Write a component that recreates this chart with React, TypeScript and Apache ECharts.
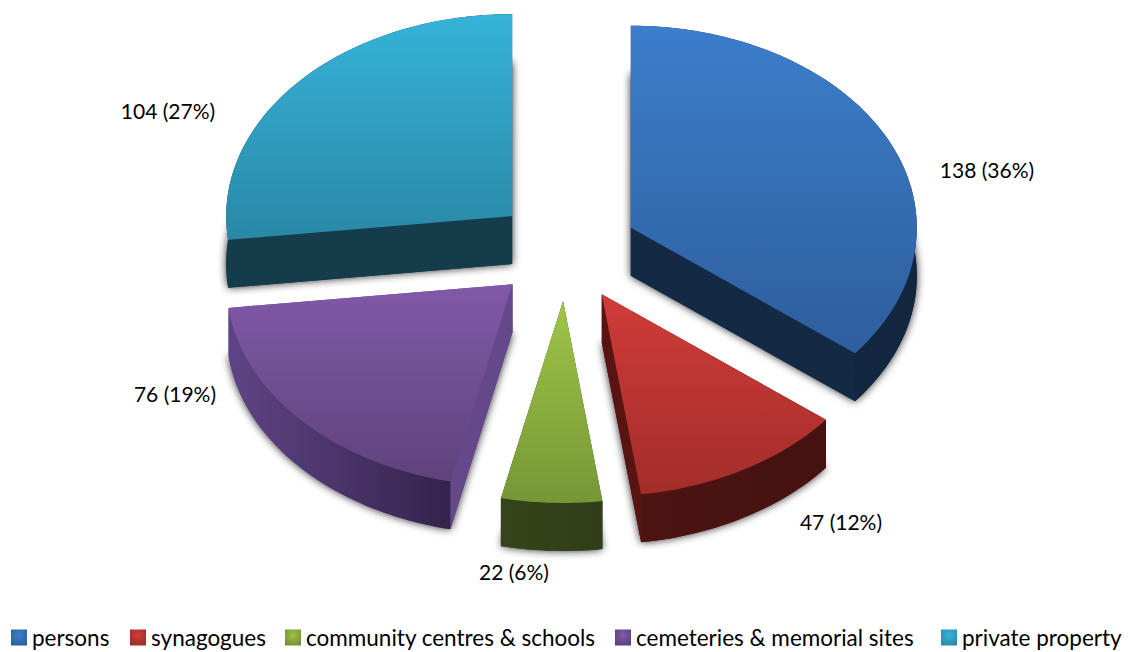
import React, { useEffect, useRef } from "react";
import * as echarts from "echarts";

const categories = ["persons", "synagogues", "community centres & schools", "cemeteries & memorial sites", "private property"];
const values = [138, 47, 22, 76, 104];
const percents = [36, 12, 6, 19, 27];

// Styling and layout, kept apart from the data
const topColors = [["#3c7ecb", "#2e5e9d"], ["#cf3c39", "#a32d2a"], ["#9fc549", "#769735"], ["#8159a8", "#60427d"], ["#35b3d9", "#2a88a6"]];
const wallColors = [["#14294a", "#12263f"], ["#4d1412", "#441210"], ["#36441b", "#313d18"], ["#5f4485", "#34234c"], ["#143d4b", "#143a48"]];
const faceColors = ["#132944", "#581412", "#36441b", "#64488a", "#143c4a"];
const legendEdge = ["#2c5f9e", "#a02c2a", "#6f8f33", "#5c3f80", "#2a8aa8"];
const labelCentres = [[987, 169], [841, 521], [514, 571], [175, 393], [168, 110]];
const legendLefts = [11, 130, 285, 615, 941];
const FONT = "Lato, Carlito, sans-serif";
const CX = 566, CY = 250, EX = 72, EY = 51, RX = 286, RY = 202, DEPTH = 48;

const total = values.reduce((a, b) => a + b, 0);
const starts: number[] = [];
values.reduce((acc, v, i) => { starts[i] = acc; return acc + v; }, 0);
const toAngle = (v: number) => (v / total) * Math.PI * 2;

function renderSlice(index: number) {
  return (_params: any, api: any) => {
    const value = api.value(0);
    const a0 = toAngle(starts[index]);
    const a1 = a0 + toAngle(value);
    const mid = (a0 + a1) / 2;
    const ax = CX + EX * Math.sin(mid);
    const ay = CY - EY * Math.cos(mid);
    const steps = Math.max(8, Math.ceil((a1 - a0) * 40));
    const arc: number[][] = [];
    for (let s = 0; s <= steps; s++) {
      const t = a0 + ((a1 - a0) * s) / steps;
      arc.push([ax + RX * Math.sin(t), ay - RY * Math.cos(t)]);
    }
    const down = (p: number[]) => [p[0], p[1] + DEPTH];
    const apex = [ax, ay];
    const first = arc[0];
    const last = arc[arc.length - 1];
    const grad = (c: string[], horizontal = false) => ({
      type: "linear", x: 0, y: 0, x2: horizontal ? 1 : 0, y2: horizontal ? 0 : 1,
      colorStops: [{ offset: 0, color: c[0] }, { offset: 1, color: c[1] }],
    });
    const [lx, ly] = labelCentres[index];
    return {
      type: "group",
      children: [
        {
          type: "polygon",
          shape: { points: [down(apex), ...arc.map(down)] },
          style: { fill: faceColors[index], shadowBlur: 8, shadowColor: "rgba(0,0,0,0.85)" },
        },
        { type: "polygon", shape: { points: [apex, first, down(first), down(apex)] }, style: { fill: faceColors[index] } },
        { type: "polygon", shape: { points: [apex, last, down(last), down(apex)] }, style: { fill: faceColors[index] } },
        {
          type: "polygon",
          shape: { points: [...arc, ...arc.slice().reverse().map(down)] },
          style: { fill: grad(wallColors[index], true) },
        },
        {
          type: "polygon",
          shape: { points: [apex, ...arc] },
          style: { fill: grad(topColors[index]) },
        },
        {
          type: "text",
          style: {
            text: `${value} (${percents[index]}%)`,
            x: lx, y: ly, fill: "#000", align: "center", verticalAlign: "middle",
            font: `21px ${FONT}`,
          },
        },
      ],
    };
  };
}

export default function App() {
  const ref = useRef<HTMLDivElement>(null);
  useEffect(() => {
    document.body.style.margin = "0";
    const chart = echarts.init(ref.current!, null, { renderer: "svg" });
    chart.setOption({
      animation: false,
      backgroundColor: "#fff",
      legend: categories.map((name, i) => ({
        data: [name],
        left: legendLefts[i],
        top: 626,
        padding: 0,
        selectedMode: false,
        icon: "rect",
        itemWidth: 16,
        itemHeight: 16,
        itemGap: 0,
        itemStyle: {
          color: {
            type: "radial", x: 0.5, y: 0.35, r: 0.7,
            colorStops: [{ offset: 0, color: topColors[i][0] }, { offset: 1, color: legendEdge[i] }],
          },
        },
        textStyle: { fontFamily: FONT, fontSize: 22.5, color: "#000" },
      })),
      series: categories.map((name, i) => ({
        type: "custom",
        name,
        coordinateSystem: "none",
        data: [values[i]],
        itemStyle: { color: topColors[i][0] },
        renderItem: renderSlice(i),
        silent: true,
      })),
    });
    return () => chart.dispose();
  }, []);
  return <div ref={ref} style={{ position: "absolute", left: 0, top: 0, width: 1130, height: 652 }} />;
}
